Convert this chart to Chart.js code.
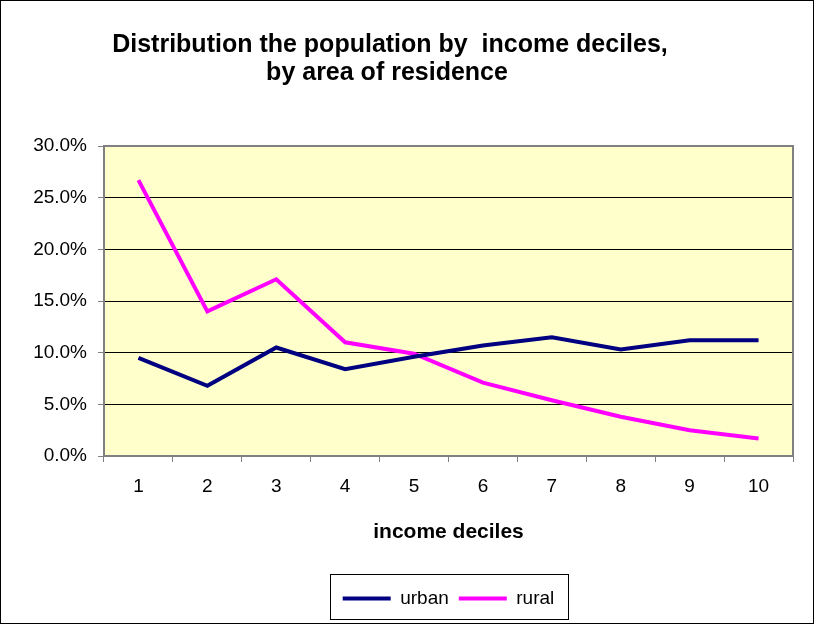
<!DOCTYPE html>
<html>
<head>
<meta charset="utf-8">
<script src="https://cdn.jsdelivr.net/npm/chart.js@4"></script>
<style>
  body { margin: 0; background: #fff; }
  #chart { display: block; }
</style>
</head>
<body>
<canvas id="chart" width="814" height="624"></canvas>
<script>
// Dados
var deciles = ['1', '2', '3', '4', '5', '6', '7', '8', '9', '10']
var urban = [9.5, 6.8, 10.5, 8.4, 9.6, 10.7, 11.5, 10.3, 11.2, 11.2]
var rural = [26.7, 14.0, 17.1, 11.0, 9.9, 7.1, 5.4, 3.8, 2.5, 1.7]
var titleLines = ['Distribution the population by  income deciles,', 'by area of residence']

var fontFamily = '"Liberation Sans", Arial, sans-serif'
var colorUrban = '#000080'
var colorRural = '#ff00ff'
var axisGray = '#808080'

// Fundo amarelo, bordas e título
var decorPlugin = {
  id: 'decor',
  beforeDraw: function (chart) {
    var ctx = chart.ctx
    var a = chart.chartArea
    ctx.save()
    ctx.fillStyle = '#ffffcc'
    ctx.fillRect(a.left, a.top, a.right - a.left, a.bottom - a.top)
    ctx.restore()
  },
  beforeDatasetsDraw: function (chart) {
    var ctx = chart.ctx
    var a = chart.chartArea
    ctx.save()
    ctx.strokeStyle = axisGray
    ctx.lineWidth = 2
    ctx.beginPath()
    ctx.moveTo(a.left, a.top)
    ctx.lineTo(a.right, a.top)
    ctx.lineTo(a.right, a.bottom)
    ctx.stroke()
    ctx.restore()
  },
  afterDraw: function (chart) {
    var ctx = chart.ctx
    ctx.save()
    // título
    ctx.fillStyle = '#000'
    ctx.font = 'bold 25px ' + fontFamily
    ctx.textAlign = 'center'
    ctx.textBaseline = 'middle'
    ctx.fillText(titleLines[0], 390, 45)
    ctx.fillText(titleLines[1], 387, 73)
    // caixa da legenda
    var boxes = chart.legend.legendHitBoxes
    if (boxes && boxes.length) {
      var l = Math.min.apply(null, boxes.map(function (b) { return b.left }))
      var r = Math.max.apply(null, boxes.map(function (b) { return b.left + b.width }))
      var t = Math.min.apply(null, boxes.map(function (b) { return b.top }))
      var h = boxes[0].height
      ctx.strokeStyle = '#000'
      ctx.lineWidth = 1
      ctx.strokeRect(Math.round(l - 13) + 0.5, Math.round(t - 15) + 0.5, Math.round(r - l + 26), Math.round(h + 26))
    }
    // borda externa
    ctx.strokeStyle = '#000'
    ctx.lineWidth = 1
    ctx.strokeRect(0.5, 0.5, 813, 623)
    ctx.restore()
  }
}

var chartElement = document.getElementById('chart')

var chart = new Chart(chartElement, {
  type: 'line',
  data: {
    labels: deciles,
    datasets: [{
      label: 'urban',
      data: urban,
      borderColor: colorUrban,
      backgroundColor: colorUrban,
      borderWidth: 4,
      pointRadius: 0,
      tension: 0
    }, {
      label: 'rural',
      data: rural,
      borderColor: colorRural,
      backgroundColor: colorRural,
      borderWidth: 4,
      pointRadius: 0,
      tension: 0
    }]
  },
  options: {
    responsive: false,
    animation: false,
    layout: {
      padding: { left: 0, right: 21, top: 146, bottom: 6 }
    },
    plugins: {
      title: { display: false },
      tooltip: { enabled: false },
      legend: {
        position: 'bottom',
        fullSize: false,
        labels: {
          usePointStyle: true,
          pointStyle: 'line',
          pointStyleWidth: 48,
          color: '#000',
          padding: 10,
          font: { family: fontFamily, size: 19 }
        }
      }
    },
    scales: {
      x: {
        offset: true,
        afterFit: function (scale) { scale.height = 123 },
        grid: {
          offset: true,
          drawOnChartArea: false,
          color: axisGray,
          tickLength: 6
        },
        border: { color: axisGray, width: 2 },
        ticks: {
          color: '#000',
          padding: 13,
          maxRotation: 0,
          font: { family: fontFamily, size: 19 }
        },
        title: {
          display: true,
          text: 'income deciles',
          color: '#000',
          padding: { top: 0, bottom: 34 },
          font: { family: fontFamily, size: 21, weight: 'bold' }
        }
      },
      y: {
        min: 0,
        max: 30,
        afterFit: function (scale) { scale.width = 104 },
        grid: {
          color: function (ctx) { return (ctx.tick && ctx.tick.value === 30) ? axisGray : '#000' },
          tickColor: axisGray,
          lineWidth: 1,
          tickLength: 6
        },
        border: { color: axisGray, width: 2 },
        ticks: {
          stepSize: 5,
          color: '#000',
          padding: 11,
          font: { family: fontFamily, size: 19 },
          callback: function (v) { return v.toFixed(1) + '%' }
        }
      }
    }
  },
  plugins: [decorPlugin]
})
</script>
</body>
</html>
